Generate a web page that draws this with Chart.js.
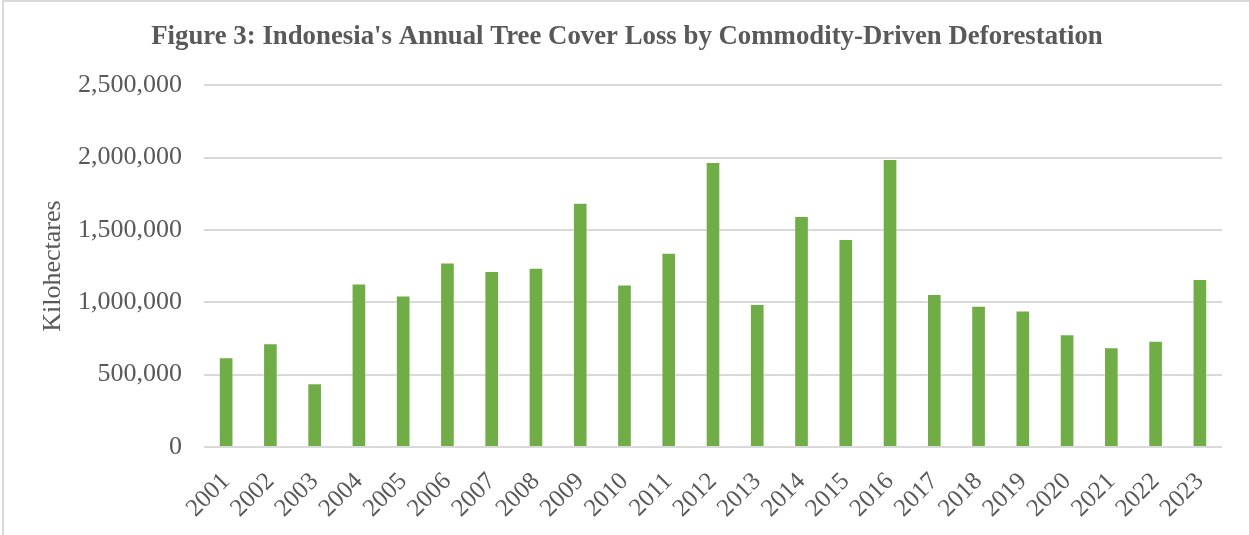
<!DOCTYPE html>
<html>
<head>
<meta charset="utf-8">
<script src="https://cdn.jsdelivr.net/npm/chart.js@4.4.1/dist/chart.umd.min.js"></script>
<style>
    html, body { margin: 0; padding: 0; background: #ffffff; }
    #wrap { width: 1249px; height: 535px; position: relative; }
</style>
</head>
<body>
<div id="wrap"><canvas id="loss-chart" width="1249" height="535"></canvas></div>
<script>
// Annual tree cover loss from commodity-driven deforestation
const years = ['2001', '2002', '2003', '2004', '2005', '2006', '2007', '2008', '2009', '2010', '2011', '2012',
    '2013', '2014', '2015', '2016', '2017', '2018', '2019', '2020', '2021', '2022', '2023'];
const treeCoverLoss = [618000, 715000, 438000, 1127000, 1044000, 1272000, 1213000, 1236000, 1685000, 1120000,
    1340000, 1967000, 985000, 1593000, 1434000, 1988000, 1054000, 973000, 940000, 777000, 687000, 731000, 1158000];
const yTicks = [0, 500000, 1000000, 1500000, 2000000, 2500000];

const textGray = '#595959';
const serif = "'Liberation Serif', 'Times New Roman', serif";

// light frame along the top and left edge
const framePlugin = {
    id: 'frame',
    beforeDraw(chart) {
        const ctx = chart.ctx;
        ctx.save();
        ctx.strokeStyle = '#d9d9d9';
        ctx.lineWidth = 2;
        ctx.beginPath();
        ctx.moveTo(3, chart.height);
        ctx.lineTo(3, 1);
        ctx.lineTo(chart.width, 1);
        ctx.stroke();
        ctx.restore();
    }
};

document.addEventListener('DOMContentLoaded', function() {
    createLossChart();
});

function createLossChart() {
    const ctx = document.getElementById('loss-chart').getContext('2d');
    new Chart(ctx, {
        type: 'bar',
        data: {
            labels: years,
            datasets: [{
                label: 'Tree cover loss',
                data: treeCoverLoss,
                backgroundColor: '#70ad47',
                borderColor: 'rgba(255, 255, 255, 0.35)',
                borderWidth: 1,
                barThickness: 14
            }]
        },
        plugins: [framePlugin],
        options: {
            responsive: false,
            animation: false,
            layout: {
                padding: { left: 32, right: 27, top: 0, bottom: 0 }
            },
            scales: {
                x: {
                    grid: { display: false, drawTicks: false },
                    border: { display: false },
                    ticks: {
                        color: textGray,
                        font: { family: serif, size: 25 },
                        minRotation: 45,
                        maxRotation: 45,
                        padding: 20,
                        autoSkip: false
                    },
                    afterFit(scale) { scale.height = 88; }
                },
                y: {
                    min: 0,
                    max: 2500000,
                    afterBuildTicks(scale) {
                        scale.ticks = yTicks.map(v => ({ value: v }));
                    },
                    grid: { color: '#d9d9d9', lineWidth: 2, drawTicks: false },
                    border: { display: false },
                    ticks: {
                        color: textGray,
                        font: { family: serif, size: 26 },
                        padding: 22,
                        callback: v => v.toLocaleString('en-US')
                    },
                    title: {
                        display: true,
                        text: 'Kilohectares',
                        color: textGray,
                        font: { family: serif, size: 26 },
                        padding: { top: 6, bottom: 0 }
                    },
                    afterFit(scale) { scale.width = 172; }
                }
            },
            plugins: {
                legend: { display: false },
                tooltip: { enabled: false },
                title: {
                    display: true,
                    text: "Figure 3: Indonesia's Annual Tree Cover Loss by Commodity-Driven Deforestation",
                    color: textGray,
                    font: { family: serif, size: 26.8, weight: 'bold' },
                    padding: { top: 21, bottom: 32 }
                }
            }
        }
    });
}
</script>
</body>
</html>
